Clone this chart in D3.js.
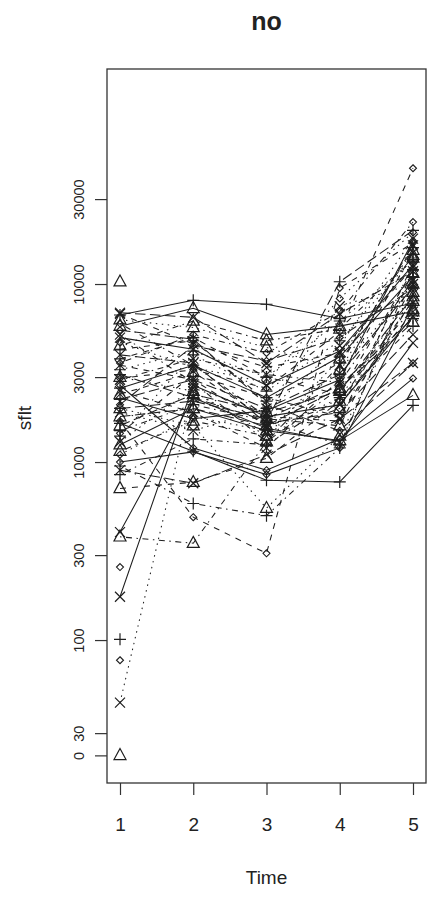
<!DOCTYPE html>
<html>
<head>
<meta charset="utf-8">
<script src="https://cdn.jsdelivr.net/npm/d3@7"></script>
<style>
  html, body { margin: 0; padding: 0; background: #fff; }
  svg text { font-family: "Liberation Sans", Arial, sans-serif; fill: #222; }
</style>
</head>
<body>
<svg id="chart" width="432" height="898"></svg>
<script>
// ---- data ----
const times = [1, 2, 3, 4, 5];
const yTicks = [0, 30, 100, 300, 1000, 3000, 10000, 30000];
const yTickLabels = ["0", "30", "100", "300", "1000", "3000", "10000", "30000"];
const xTickLabels = ["1", "2", "3", "4", "5"];
const title = "no";
const xLabel = "Time";
const yLabel = "sflt";
// one array per subject: sflt at times 1..5 (null = missing)
const s00 = [0, null, null, null, null];
const s01 = [101, null, null, null, null];
const s02 = [44.5, 2500, 1450, 2300, 8800];
const s03 = [77, null, null, null, null];
const s04 = [10300, null, null, null, null];
const s05 = [1650, 1150, 790, 773, 2080];
const s06 = [6800, 4600, 3400, 4100, 12500];
const s07 = [257, null, null, null, null];
const s08 = [380, 350, 1300, 2600, 7200];
const s09 = [2250, 2900, 2000, 3100, 9600];
const s10 = [175, 2700, 1800, 2100, 6600];
const s11 = [2950, 3300, 2600, 5400, 44700];
const s12 = [6300, 5700, 4400, 3300, 14500];
const s13 = [1500, 2100, 1700, 1250, 11000];
const s14 = [4000, 3600, 1650, 1900, 5200];
const s15 = [1000, 1140, 850, 1200, 7600];
const s16 = [711, 770, 1050, 2200, 8000];
const s17 = [3300, 4200, 3000, 6200, 13500];
const s18 = [2900, 3800, 3100, 2800, 10500];
const s19 = [5500, 4900, 2100, 1500, 3590];
const s20 = [5800, 7300, 5200, 5800, 7000];
const s21 = [4300, 4800, 2200, 3600, 16000];
const s22 = [1300, 2600, 1900, 4500, 18000];
const s23 = [3600, 5200, 4100, 7000, 22300];
const s24 = [1800, 2000, 1600, 2600, 6100];
const s25 = [6700, 8100, 7700, 6400, 7800];
const s26 = [2500, 1900, 1200, 2900, 15000];
const s27 = [4700, 3400, 2800, 8300, 19500];
const s28 = [1150, 1700, 1400, 2000, 11500];
const s29 = [3100, 2300, 1700, 10300, 20000];
const s30 = [404, 2300, 1550, 1300, 4670];
const s31 = [1700, 490, 307, 9500, 17000];
const s32 = [2000, 1600, 550, 1400, 9000];
const s33 = [950, 585, 500, 1200, 12000];
const s34 = [900, 760, 1100, 1750, 3600];
const s35 = [2700, 1200, 900, 1350, 2950];
const s36 = [2400, 3200, 1750, 1600, 10000];
const s37 = [1400, 4000, 2500, 4800, 14000];
const s38 = [5200, 2800, 1300, 3500, 16500];
const s39 = [2100, 4500, 3700, 5000, 9500];
const s40 = [1250, 2000, 1500, 1320, 2370];
const s41 = [3800, 5000, 3000, 2400, 12000];
const s42 = [1900, 1500, 2000, 7500, 10000];
const s43 = [6000, 3500, 1800, 1700, 13000];
const s44 = [1600, 2400, 1900, 2500, 8500];
const s45 = [2600, 3500, 2300, 3900, 11000];
const s46 = [3500, 2900, 1600, 2100, 7000];
const s47 = [1100, 1800, 1500, 3300, 9800];
const s48 = [4500, 6200, 4800, 5600, 14000];
const s49 = [2000, 2200, 1750, 2700, 6400];
const s50 = [5000, 4300, 2700, 4200, 12800];
const s51 = [1450, 3100, 2300, 1800, 8200];
const s52 = [3000, 2500, 1400, 3800, 15500];
const s53 = [850, 1350, 1250, 2300, 5800];
const s54 = [6900, 6500, 3600, 6800, 11800];
const s55 = [2300, 1750, 1950, 2900, 17500];
const subjects = [s00,s01,s02,s03,s04,s05,s06,s07,s08,s09,s10,s11,s12,s13,s14,s15,
  s16,s17,s18,s19,s20,s21,s22,s23,s24,s25,s26,s27,s28,s29,s30,s31,s32,s33,s34,s35,
  s36,s37,s38,s39,s40,s41,s42,s43,s44,s45,s46,s47,s48,s49,s50,s51,s52,s53,s54,s55];

// ---- layout ----
const svg = d3.select("#chart");
const L = 107, R = 426, T = 69, B = 783;
const zeroAt = 22.5; // where the value 0 sits on the log axis

const x = d3.scaleLinear().domain([1, 5]).range([120, 413]);
const yLog = d3.scaleLog().domain([15.74, 161400]).range([B, T]);
const y = v => yLog(v === 0 ? zeroAt : v);

const ink = "#1e1e1e";
const dashes = [null, "6,6", "1.5,4.5", "1.5,4.5,6,4.5", "10.5,4.5"];

// lines
const line = d3.line()
  .defined(d => d.v !== null)
  .x(d => x(d.t))
  .y(d => y(d.v));

const g = svg.append("g");
subjects.forEach((vals, i) => {
  const pts = vals.map((v, k) => ({ t: times[k], v }));
  g.append("path")
    .attr("d", line(pts))
    .attr("fill", "none")
    .attr("stroke", ink)
    .attr("stroke-width", 1.05)
    .attr("stroke-dasharray", dashes[i % 5]);
});

// markers
function marker(sel, type, cx, cy) {
  if (type === 0) {
    const h = 11, w = 12;
    sel.append("path").attr("d", `M${cx},${cy - h * 0.62}L${cx + w / 2},${cy + h * 0.38}L${cx - w / 2},${cy + h * 0.38}Z`)
      .attr("fill", "none").attr("stroke", ink).attr("stroke-width", 1.2);
  } else if (type === 1) {
    const s = 6;
    sel.append("path").attr("d", `M${cx - s},${cy}H${cx + s}M${cx},${cy - s}V${cy + s}`)
      .attr("stroke", ink).attr("stroke-width", 1.2);
  } else if (type === 2) {
    const s = 5;
    sel.append("path").attr("d", `M${cx - s},${cy - s}L${cx + s},${cy + s}M${cx - s},${cy + s}L${cx + s},${cy - s}`)
      .attr("stroke", ink).attr("stroke-width", 1.2);
  } else {
    const s = 3.5;
    sel.append("path").attr("d", `M${cx},${cy - s}L${cx + s},${cy}L${cx},${cy + s}L${cx - s},${cy}Z`)
      .attr("fill", "none").attr("stroke", ink).attr("stroke-width", 1.1);
  }
}
const gm = svg.append("g");
subjects.forEach((vals, i) => {
  vals.forEach((v, k) => {
    if (v === null) return;
    marker(gm, i % 4, x(times[k]), y(v));
  });
});

// box
svg.append("rect").attr("x", L).attr("y", T).attr("width", R - L).attr("height", B - T)
  .attr("fill", "none").attr("stroke", "#333").attr("stroke-width", 1.3);

// x axis
const xAxis = d3.axisBottom(x).tickValues(times).tickSize(12).tickPadding(23)
  .tickFormat((d, i) => xTickLabels[i]);
const gx = svg.append("g").attr("transform", `translate(0,${B})`).call(xAxis);
gx.select(".domain").remove();
gx.selectAll("line").attr("stroke", "#333").attr("stroke-width", 1.2);
gx.selectAll("text").attr("font-size", 19).attr("fill", "#333")
  .attr("font-family", "Liberation Sans, Arial, sans-serif");

// y axis
const yAxis = d3.axisLeft(yLog).tickValues(yTicks.map(v => v === 0 ? zeroAt : v)).tickSize(12)
  .tickFormat((d, i) => yTickLabels[i]);
const gy = svg.append("g").attr("transform", `translate(${L},0)`).call(yAxis);
gy.select(".domain").remove();
gy.selectAll("line").attr("stroke", "#333").attr("stroke-width", 1.2);
gy.selectAll("text")
  .attr("x", null).attr("dy", null)
  .attr("text-anchor", "middle")
  .attr("transform", "translate(-28,0) rotate(-90)")
  .attr("y", 5)
  .attr("font-size", 14.5).attr("fill", "#333")
  .attr("font-family", "Liberation Sans, Arial, sans-serif");

// labels
svg.append("text").attr("x", (L + R) / 2).attr("y", 30).attr("text-anchor", "middle")
  .attr("font-weight", "bold").attr("font-size", 25).text(title);
svg.append("text").attr("x", (L + R) / 2).attr("y", 884).attr("text-anchor", "middle")
  .attr("font-size", 19).attr("fill", "#333").text(xLabel);
svg.append("text").attr("transform", `translate(31,418) rotate(-90)`).attr("text-anchor", "middle")
  .attr("font-size", 19).attr("fill", "#333").text(yLabel);
</script>
</body>
</html>
